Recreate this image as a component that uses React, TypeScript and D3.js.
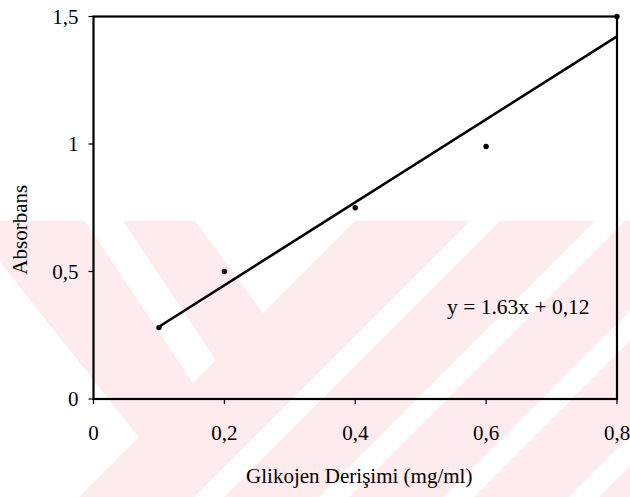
import React from "react";
import * as d3 from "d3";

// ---- data ----
const concentrations = [0.1, 0.2, 0.4, 0.6, 0.8];
const absorbances = [0.28, 0.5, 0.75, 0.99, 1.5];
const xTicks = [0, 0.2, 0.4, 0.6, 0.8];
const xTickLabels = ["0", "0,2", "0,4", "0,6", "0,8"];
const yTicks = [0, 0.5, 1, 1.5];
const yTickLabels = ["0", "0,5", "1", "1,5"];
const equationLabel = "y = 1.63x + 0,12";
const xTitle = "Glikojen Derişimi (mg/ml)";
const yTitle = "Absorbans";

// ---- layout ----
const W = 630;
const H = 497;
const FONT = "'Liberation Serif', 'Times New Roman', serif";
const PINK = "#fdebee";

// background watermark (decoration, not data)
const WM_TOP = 221;
const S_SPLIT = 576; // x + y boundary between the two stripe families
const whiteBandsS = [
  [691, 721],
  [816, 846],
  [941, 971],
  [1066, 1096],
];

function leastSquares(xs: number[], ys: number[]) {
  const mx = d3.mean(xs)!;
  const my = d3.mean(ys)!;
  let sxy = 0;
  let sxx = 0;
  xs.forEach((x, i) => {
    sxy += (x - mx) * (ys[i] - my);
    sxx += (x - mx) * (x - mx);
  });
  const slope = sxy / sxx;
  return { slope, intercept: my - slope * mx };
}

export default function App() {
  const x = d3.scaleLinear().domain([0, 0.8]).range([93.5, 617]);
  const y = d3.scaleLinear().domain([0, 1.5]).range([399, 16.5]);
  const [x0, x1] = x.range();
  const [y0, y1] = y.range();

  const pts = concentrations.map((c, i) => [c, absorbances[i]] as [number, number]);
  const fit = leastSquares(concentrations, absorbances);
  const xMin = d3.min(concentrations)!;
  const xMax = d3.max(concentrations)!;
  const line = d3
    .line<[number, number]>()
    .x((d) => x(d[0]))
    .y((d) => y(d[1]));
  const trend: [number, number][] = [
    [xMin, fit.slope * xMin + fit.intercept],
    [xMax, fit.slope * xMax + fit.intercept],
  ];

  // watermark polygons
  const band = (a: number, b: number) =>
    `${a - WM_TOP},${WM_TOP} ${b - WM_TOP},${WM_TOP} ${b - H},${H} ${a - H},${H}`;
  const lowerLeft = `0,262 ${S_SPLIT - 437.3},437.3 ${S_SPLIT - H},${H} 0,${H}`;
  const stripeL1 = `85,${WM_TOP} 123,${WM_TOP} 215.8,360.2 193,383`;
  const notch = `195,${WM_TOP} ${S_SPLIT - 313},313 ${S_SPLIT - WM_TOP},${WM_TOP}`;

  return (
    <svg
      width={W}
      height={H}
      style={{ position: "fixed", left: 0, top: 0, background: "#fff" }}
      fontFamily={FONT}
    >
      {/* watermark */}
      <g>
        <rect x={0} y={WM_TOP} width={W} height={H - WM_TOP} fill={PINK} />
        <polygon points={lowerLeft} fill="#fff" />
        <polygon points={stripeL1} fill="#fff" />
        <polygon points={notch} fill="#fff" />
        {whiteBandsS.map(([a, b], i) => (
          <polygon key={i} points={band(a, b)} fill="#fff" />
        ))}
      </g>

      {/* plot frame */}
      <rect
        x={x0}
        y={y1}
        width={x1 - x0}
        height={y0 - y1}
        fill="none"
        stroke="#000"
        strokeWidth={2.2}
      />

      {/* y ticks */}
      {yTicks.map((t, i) => (
        <g key={"y" + i}>
          <line x1={x0 - 5} x2={x0} y1={y(t)} y2={y(t)} stroke="#000" strokeWidth={1.2} />
          <text x={x0 - 15} y={y(t)} dy="0.35em" textAnchor="end" fontSize={21} fill="#000">
            {yTickLabels[i]}
          </text>
        </g>
      ))}

      {/* x ticks */}
      {xTicks.map((t, i) => (
        <g key={"x" + i}>
          <line x1={x(t)} x2={x(t)} y1={y0} y2={y0 + 5} stroke="#000" strokeWidth={1.2} />
          <text x={x(t)} y={y0 + 41} textAnchor="middle" fontSize={21} fill="#000">
            {xTickLabels[i]}
          </text>
        </g>
      ))}

      {/* trend line */}
      <path d={line(trend)!} fill="none" stroke="#000" strokeWidth={2.6} />

      {/* points */}
      {pts.map((p, i) => (
        <circle key={i} cx={x(p[0])} cy={y(p[1])} r={2.7} fill="#000" />
      ))}

      {/* equation */}
      <text x={447} y={314} fontSize={21.5} fill="#000">
        {equationLabel}
      </text>

      {/* axis titles */}
      <text x={(x0 + x1) / 2 + 4} y={483} textAnchor="middle" fontSize={21} fill="#000">
        {xTitle}
      </text>
      <text
        transform={`translate(27, ${(y0 + y1) / 2 + 22}) rotate(-90)`}
        textAnchor="middle"
        fontSize={21}
        fill="#000"
      >
        {yTitle}
      </text>
    </svg>
  );
}
